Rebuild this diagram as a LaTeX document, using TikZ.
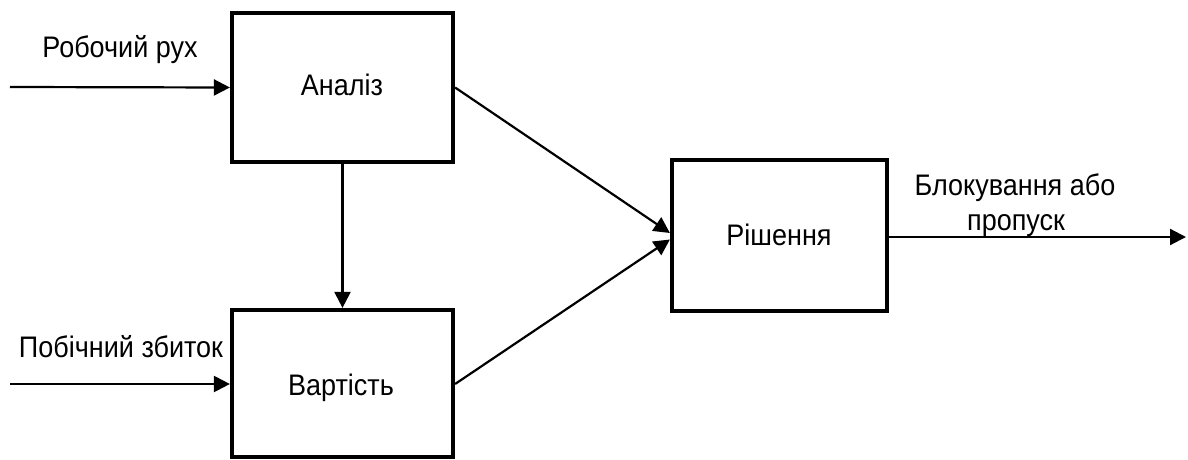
\documentclass[tikz,border=0pt]{standalone}
\usepackage{fontspec}
\setmainfont{Liberation Sans}
\usetikzlibrary{arrows.meta}
\newcommand{\tall}[1]{\scalebox{1}[1.1]{#1}}
\begin{document}
\begin{tikzpicture}[x=1pt,y=-1pt,
  block/.style={draw=black, line width=4.2pt, fill=white, inner sep=0pt},
  flow/.style={line width=2.2pt, -{Triangle[length=16pt,width=16pt]}},
  lbl/.style={inner sep=0pt, anchor=base, font=\fontsize{27}{31}\selectfont}]
  \useasboundingbox (0,0) rectangle (1188,460);

  % processing blocks
  \node[block, minimum width=221pt, minimum height=149pt] (an) at (342.5,87.5) {};
  \node[block, minimum width=221pt, minimum height=147pt] (var) at (342.5,383.5) {};
  \node[block, minimum width=215pt, minimum height=151pt] (res) at (779.5,235.5) {};

  % block titles
  \node[lbl] (tan) at (342,95) {\tall{Аналіз}};
  \node[lbl] (tvar) at (341,395) {\tall{Вартість}};
  \node[lbl] (tres) at (779,245) {\tall{Рішення}};

  % inputs and output
  \coordinate (in1) at (10,87);
  \coordinate (in2) at (10,384);
  \coordinate (out) at (1186,237);

  \draw[flow] (in1) -- (an.west);
  \draw[flow] (in2) -- (var.west |- in2);
  \draw[flow] (an.south) -- (var.north);
  \draw[flow] (an.east) -- ([yshift=2.5pt]res.west);
  \draw[flow] (var.east |- in2) -- ([yshift=-4pt]res.west);
  \draw[flow] (res.east |- out) -- (out);

  % connector labels
  \node[lbl] (lin1) at (120,58) {\tall{Робочий рух}};
  \node[lbl] (lin2) at (121,357) {\tall{Побічний збиток}};
  \node[lbl] (lout1) at (1015,195) {\tall{Блокування або}};
  \node[lbl] (lout2) at (1016,230) {\tall{пропуск}};
\end{tikzpicture}
\end{document}
